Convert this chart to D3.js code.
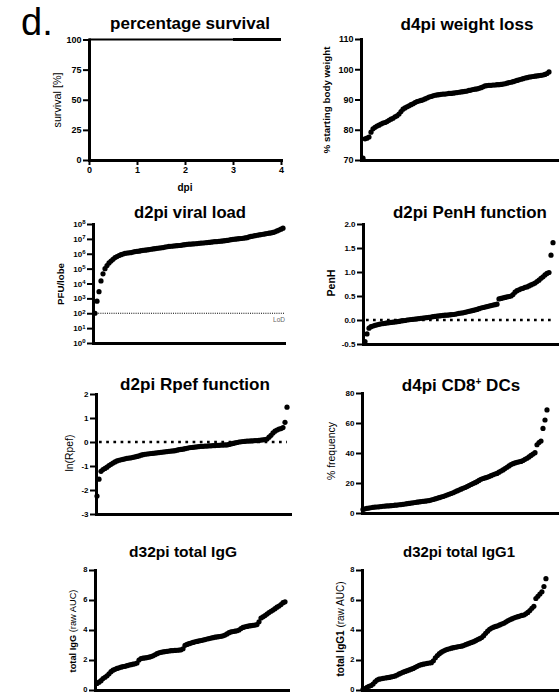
<!DOCTYPE html>
<html><head><meta charset="utf-8">
<script src="https://cdn.jsdelivr.net/npm/d3@7"></script>
<style>
body{margin:0;background:#fff;}
svg{display:block;}
</style></head><body>
<svg id="chart" width="560" height="693"></svg>
<script>
// ---------------- DATA ----------------
const survivalDays = [0, 1, 2, 3, 4];
const survivalPct = [100, 100, 100, 100, 100];
const survivalLateDays = [3, 4];
const survivalLatePct = [100, 100];
const survivalYTicks = [0, 25, 50, 75, 100];
const survivalXTicks = [0, 1, 2, 3, 4];

const weightLoss = [70.6,77.0,77.2,77.6,79.2,80.3,80.8,81.2,81.5,81.9,82.2,82.4,82.7,83.1,83.5,83.8,84.3,84.6,85.2,86.0,
 86.8,87.2,87.6,87.9,88.3,88.6,89.0,89.3,89.5,89.7,89.9,90.2,90.5,90.8,91.0,91.2,91.4,91.5,91.6,91.7,
 91.8,91.8,91.9,92.0,92.0,92.1,92.2,92.3,92.4,92.5,92.6,92.7,92.8,93.0,93.1,93.3,93.4,93.5,93.7,93.9,
 94.2,94.5,94.6,94.7,94.7,94.8,94.8,94.9,94.9,95.0,95.1,95.2,95.4,95.6,95.7,95.9,96.1,96.3,96.5,96.7,
 96.9,97.1,97.2,97.4,97.5,97.6,97.7,97.8,97.9,98.0,98.1,98.3,98.6,99.1];
const weightTicks = [70, 80, 90, 100, 110];

const viralLoad = [1e2,6.5e2,2.8e3,1.5e4,4.5e4,1.0e5,1.6e5,2.4e5,3.2e5,4.2e5,5.5e5,6.5e5,7.6e5,8.6e5,9.6e5,
 1.05e6,1.1e6,1.15e6,1.2e6,1.3e6,1.4e6,1.45e6,1.5e6,1.6e6,1.7e6,1.75e6,1.8e6,1.9e6,2.0e6,2.1e6,
 2.2e6,2.3e6,2.4e6,2.5e6,2.6e6,2.8e6,2.95e6,3.1e6,3.2e6,3.3e6,3.4e6,3.5e6,3.6e6,3.7e6,3.9e6,
 4.1e6,4.3e6,4.4e6,4.5e6,4.6e6,4.7e6,4.8e6,5.0e6,5.2e6,5.3e6,5.5e6,5.6e6,5.8e6,6.0e6,6.3e6,
 6.5e6,6.6e6,6.8e6,7.0e6,7.3e6,7.6e6,7.9e6,8.3e6,8.8e6,9.3e6,9.6e6,1.0e7,1.03e7,1.06e7,1.1e7,
 1.15e7,1.2e7,1.35e7,1.45e7,1.55e7,1.65e7,1.75e7,1.85e7,1.95e7,2.05e7,2.15e7,2.3e7,2.4e7,2.5e7,2.7e7,
 3.0e7,3.4e7,3.9e7,4.5e7,5.2e7];
const viralTicks = [1, 1e1, 1e2, 1e3, 1e4, 1e5, 1e6, 1e7, 1e8];
const viralLoD = 1e2;

const penH = [-0.45,-0.29,-0.17,-0.14,-0.125,-0.11,-0.10,-0.09,-0.08,-0.075,-0.07,-0.06,-0.055,-0.05,-0.045,-0.04,-0.035,-0.03,-0.02,-0.015,
 -0.01,0.0,0.005,0.01,0.015,0.02,0.025,0.03,0.035,0.04,0.045,0.05,0.055,0.06,0.07,0.075,0.08,0.085,0.09,0.095,
 0.10,0.10,0.105,0.11,0.115,0.12,0.13,0.14,0.145,0.15,0.16,0.17,0.18,0.19,0.20,0.21,0.22,0.235,0.25,0.26,
 0.27,0.28,0.29,0.30,0.31,0.32,0.33,0.44,0.45,0.46,0.47,0.48,0.49,0.50,0.53,0.58,0.61,0.63,0.65,0.66,
 0.68,0.69,0.71,0.73,0.75,0.77,0.80,0.83,0.87,0.90,0.94,0.97,0.99,1.35,1.61];
const penHTicks = [-0.5, 0, 0.5, 1, 1.5, 2];

const rpef = [-2.25,-1.55,-1.22,-1.15,-1.10,-1.05,-0.98,-0.93,-0.88,-0.83,-0.79,-0.76,-0.74,-0.72,-0.70,-0.68,-0.67,-0.66,-0.64,-0.62,
 -0.60,-0.58,-0.55,-0.53,-0.51,-0.50,-0.49,-0.48,-0.47,-0.46,-0.45,-0.44,-0.43,-0.42,-0.41,-0.40,-0.39,-0.38,-0.37,-0.36,
 -0.34,-0.32,-0.31,-0.30,-0.28,-0.26,-0.24,-0.23,-0.22,-0.21,-0.20,-0.19,-0.18,-0.18,-0.17,-0.17,-0.16,-0.16,-0.15,-0.15,
 -0.14,-0.14,-0.13,-0.13,-0.12,-0.12,-0.10,-0.08,-0.06,-0.04,-0.02,0.00,0.01,0.02,0.03,0.04,0.04,0.05,0.05,0.06,
 0.06,0.07,0.08,0.09,0.10,0.12,0.20,0.28,0.38,0.45,0.50,0.54,0.56,0.60,0.82,1.45];
const rpefTicks = [-3, -2, -1, 0, 1, 2];

const cd8DCs = [2.4,2.8,3.1,3.3,3.5,3.7,3.9,4.0,4.1,4.3,4.5,4.6,4.7,4.8,4.9,5.0,5.2,5.3,5.5,5.6,
 5.8,6.0,6.2,6.4,6.6,6.8,7.0,7.2,7.4,7.6,7.8,7.9,8.1,8.3,8.6,9.0,9.4,9.8,10.2,10.6,
 11.0,11.5,12.0,12.5,13.0,13.5,14.1,14.7,15.3,15.9,16.5,17.0,17.6,18.3,19.0,19.6,20.2,20.9,21.7,22.5,
 23.0,23.4,23.8,24.3,24.9,25.5,26.0,26.4,27.2,28.0,28.7,29.6,30.5,31.4,32.3,32.9,33.4,33.8,34.1,34.4,
 35.0,35.8,36.5,37.4,38.4,39.3,40.2,45.5,47.0,48.0,56.4,62.0,68.7];
const cd8Ticks = [0, 20, 40, 60, 80];

const totalIgG = [0.44,0.52,0.62,0.76,0.85,0.95,1.08,1.22,1.32,1.38,1.44,1.48,1.52,1.56,1.58,1.62,1.66,1.69,1.72,1.75,
 1.80,2.00,2.10,2.12,2.14,2.16,2.19,2.23,2.28,2.35,2.42,2.48,2.51,2.54,2.56,2.58,2.60,2.62,2.63,2.64,
 2.65,2.66,2.68,2.75,2.98,3.04,3.09,3.13,3.17,3.21,3.24,3.27,3.30,3.33,3.36,3.40,3.43,3.46,3.49,3.52,
 3.54,3.56,3.58,3.61,3.66,3.74,3.82,3.87,3.90,3.92,3.95,4.00,4.10,4.17,4.21,4.24,4.27,4.29,4.31,4.33,
 4.36,4.55,4.80,4.88,4.96,5.06,5.16,5.25,5.33,5.42,5.52,5.60,5.70,5.82,5.88];
const totalIgG1 = [0.05,0.10,0.18,0.25,0.30,0.40,0.55,0.66,0.72,0.75,0.78,0.80,0.82,0.84,0.87,0.90,0.94,1.00,1.07,1.13,
 1.19,1.24,1.29,1.34,1.39,1.44,1.51,1.58,1.65,1.69,1.72,1.75,1.78,1.80,1.82,1.95,2.15,2.30,2.42,2.52,
 2.60,2.66,2.71,2.75,2.79,2.82,2.85,2.88,2.90,2.92,2.96,3.02,3.07,3.12,3.17,3.22,3.29,3.36,3.42,3.50,
 3.62,3.78,3.92,4.05,4.13,4.19,4.24,4.28,4.34,4.40,4.45,4.53,4.61,4.68,4.74,4.80,4.85,4.89,4.93,4.97,
 5.00,5.08,5.17,5.30,5.45,5.58,6.10,6.25,6.40,6.55,6.90,7.42];
const iggTicks = [0, 2, 4, 6, 8];

// ---------------- DRAWING ----------------
const FONT = "Liberation Sans, Arial, Helvetica, sans-serif";
const svg = d3.select('#chart').attr('font-family', FONT);
svg.append('rect').attr('width', 560).attr('height', 693).attr('fill', '#fff');

// scale a text's font size so that its rendered width equals the target width
function fitWidth(t, target) {
  const w = t.node().getComputedTextLength();
  const fs = parseFloat(t.attr('font-size'));
  if (w > 0) t.attr('font-size', (fs * target / w).toFixed(2));
  return t;
}

function styleAxis(g, fs) {
  g.attr('font-family', FONT).attr('font-size', fs || 8).attr('font-weight', 'bold');
  g.select('.domain').attr('stroke', '#000').attr('stroke-width', 3).attr('stroke-linecap', 'square');
  g.selectAll('.tick line').attr('stroke', '#000').attr('stroke-width', 2);
  g.selectAll('.tick text').attr('fill', '#000');
}

function title(txt, cx, by, w) {
  const t = svg.append('text').attr('x', cx).attr('y', by).attr('text-anchor', 'middle')
    .attr('font-size', 17).attr('font-weight', 'bold').attr('fill', '#000').text(txt);
  if (w) fitWidth(t, w);
  return t;
}

function yLabel(parts, cx, cy, w) {
  const t = svg.append('text').attr('transform', `translate(${cx},${cy}) rotate(-90)`)
    .attr('text-anchor', 'middle').attr('dy', '0.35em').attr('font-size', 10).attr('fill', '#000');
  parts.forEach(p => t.append('tspan').attr('font-weight', p[1]).text(p[0]));
  if (w) fitWidth(t, w);
  return t;
}

function panel(o) {
  const x = d3.scaleLinear().domain(o.xDomain).range([o.x0, o.x1]);
  const y = (o.log ? d3.scaleLog() : d3.scaleLinear()).domain(o.yDomain).range([o.yB, o.yT]);
  if (o.refValue !== undefined) {
    svg.append('line').attr('x1', o.x0 + 3).attr('x2', o.refEnd).attr('y1', y(o.refValue)).attr('y2', y(o.refValue))
      .attr('stroke', '#000').attr('stroke-width', o.refWidth).attr('stroke-dasharray', o.refDash);
  }
  svg.append('g').selectAll('circle').data(o.values).join('circle')
    .attr('cx', (d, i) => x(i)).attr('cy', d => y(d)).attr('r', 2.6).attr('fill', '#000');
  const ya = d3.axisLeft(y).tickValues(o.yTicks).tickSize(6).tickSizeOuter(0).tickPadding(1.5)
    .tickFormat(o.yFormat || (d => String(d)));
  const gy = svg.append('g').attr('transform', `translate(${o.x0},0)`).call(ya);
  styleAxis(gy, o.tickFs);
  const xa = d3.axisBottom(x).tickValues([]).tickSize(0).tickSizeOuter(0);
  const gx = svg.append('g').attr('transform', `translate(0,${o.yB})`).call(xa);
  styleAxis(gx);
  if (o.title) title(o.title, o.tx, o.ty, o.tw);
  return {x, y, gy};
}

// "d." panel letter
svg.append('text').attr('x', 21).attr('y', 35).attr('font-size', 38).attr('fill', '#000').text('d.');

// ---- Panel 1: percentage survival ----
{
  const x = d3.scaleLinear().domain([0, 4]).range([89, 281]);
  const y = d3.scaleLinear().domain([0, 100]).range([160, 39.5]);
  const line = d3.line().x(d => x(d[0])).y(d => y(d[1]));
  svg.append('path').datum(d3.zip(survivalDays, survivalPct)).attr('d', line)
    .attr('fill', 'none').attr('stroke', '#000').attr('stroke-width', 2);
  svg.append('path').datum(d3.zip(survivalLateDays, survivalLatePct)).attr('d', line)
    .attr('fill', 'none').attr('stroke', '#000').attr('stroke-width', 3.2);
  const gy = svg.append('g').attr('transform', 'translate(89,0)')
    .call(d3.axisLeft(y).tickValues(survivalYTicks).tickSize(6).tickSizeOuter(0).tickPadding(1.5).tickFormat(d => String(d)));
  styleAxis(gy, 9);
  const gx = svg.append('g').attr('transform', 'translate(0,160)')
    .call(d3.axisBottom(x).tickValues(survivalXTicks).tickSize(5).tickSizeOuter(0).tickPadding(2).tickFormat(d => String(d)));
  styleAxis(gx, 9);
  title('percentage survival', 190, 29, 160);
  yLabel([['survival [%]', 'normal']], 57, 100, 55);
  svg.append('text').attr('x', 185).attr('y', 191).attr('text-anchor', 'middle')
    .attr('font-size', 10).attr('font-weight', 'bold').attr('fill', '#000').text('dpi');
}

// ---- Panel 2: weight loss ----
panel({values: weightLoss, xDomain: [-1, 97], x0: 361, x1: 557, yDomain: [70, 110], yT: 39, yB: 160,
  yTicks: weightTicks, tickFs: 9, title: 'd4pi weight loss', tx: 467, ty: 30, tw: 133});
yLabel([['% starting body weight', 'bold']], 327, 100, 107);

// ---- Panel 3: viral load ----
{
  const p = panel({values: viralLoad, log: true, xDomain: [-1, 94.5], x0: 93, x1: 284, yDomain: [1, 1e8], yT: 224, yB: 343,
    yTicks: viralTicks, yFormat: () => '', title: 'd2pi viral load', tx: 190, ty: 218, tw: 112,
    refValue: viralLoD, refEnd: 284, refWidth: 1, refDash: '1,1.2'});
  p.gy.selectAll('.tick text').each(function (d) {
    const t = d3.select(this);
    t.append('tspan').text('10');
    t.append('tspan').attr('font-size', 6).attr('dy', '-0.45em').text(Math.round(Math.log10(d)));
  });
  svg.append('text').attr('x', 285).attr('y', 322).attr('text-anchor', 'end').attr('font-size', 6.5)
    .attr('fill', '#666').text('LoD');
  yLabel([['PFU/lobe', 'bold']], 61, 284, 42);
}

// ---- Panel 4: PenH ----
panel({values: penH, xDomain: [-1, 96], x0: 363, x1: 557, yDomain: [-0.5, 2], yT: 224, yB: 344,
  yTicks: penHTicks, yFormat: d => d.toFixed(1), title: 'd2pi PenH function', tx: 470, ty: 218, tw: 154,
  refValue: 0, refEnd: 555, refWidth: 2.7, refDash: '2.7,4.3'});
yLabel([['PenH', 'bold']], 331, 283, 27);

// ---- Panel 5: Rpef ----
panel({values: rpef, xDomain: [-0.5, 96.5], x0: 96, x1: 290, yDomain: [-3, 2], yT: 394, yB: 514,
  yTicks: rpefTicks, title: 'd2pi Rpef function', tx: 195, ty: 390, tw: 150,
  refValue: 0, refEnd: 287, refWidth: 2.7, refDash: '2.7,4.5'});
yLabel([['ln(Rpef)', 'normal']], 69.5, 453, 37);

// ---- Panel 6: CD8+ DCs ----
{
  panel({values: cd8DCs, xDomain: [-0.5, 97], x0: 362, x1: 557, yDomain: [0, 80], yT: 393, yB: 513,
    yTicks: cd8Ticks});
  const t = svg.append('text').attr('x', 461).attr('y', 391).attr('text-anchor', 'middle')
    .attr('font-size', 17).attr('font-weight', 'bold').attr('fill', '#000');
  t.append('tspan').text('d4pi CD8');
  t.append('tspan').attr('font-size', 10).attr('dy', -6).text('+');
  t.append('tspan').attr('dy', 6).text(' DCs');
  yLabel([['% frequency', 'normal']], 331.5, 451, 58);
}

// ---- Panel 7: total IgG ----
{
  const p = panel({values: totalIgG, xDomain: [-1, 95.5], x0: 95, x1: 288, yDomain: [0, 8], yT: 570, yB: 690,
    yTicks: iggTicks, tickFs: 7.5, title: 'd32pi total IgG', tx: 183, ty: 557, tw: 108});
  p.gy.selectAll('.tick text').attr('dy', '0.15em');
  yLabel([['total IgG ', 'bold'], ['(raw AUC)', 'normal']], 73, 631, 83);
}

// ---- Panel 8: total IgG1 ----
{
  const p = panel({values: totalIgG1, xDomain: [-0.5, 96.5], x0: 362, x1: 557, yDomain: [0, 8], yT: 570, yB: 690,
    yTicks: iggTicks, tickFs: 7.5, title: 'd32pi total IgG1', tx: 459, ty: 557, tw: 112});
  p.gy.selectAll('.tick text').attr('dy', '0.15em');
  yLabel([['total IgG1 ', 'bold'], ['(raw AUC)', 'normal']], 340, 629, 95);
}
</script>
</body></html>
